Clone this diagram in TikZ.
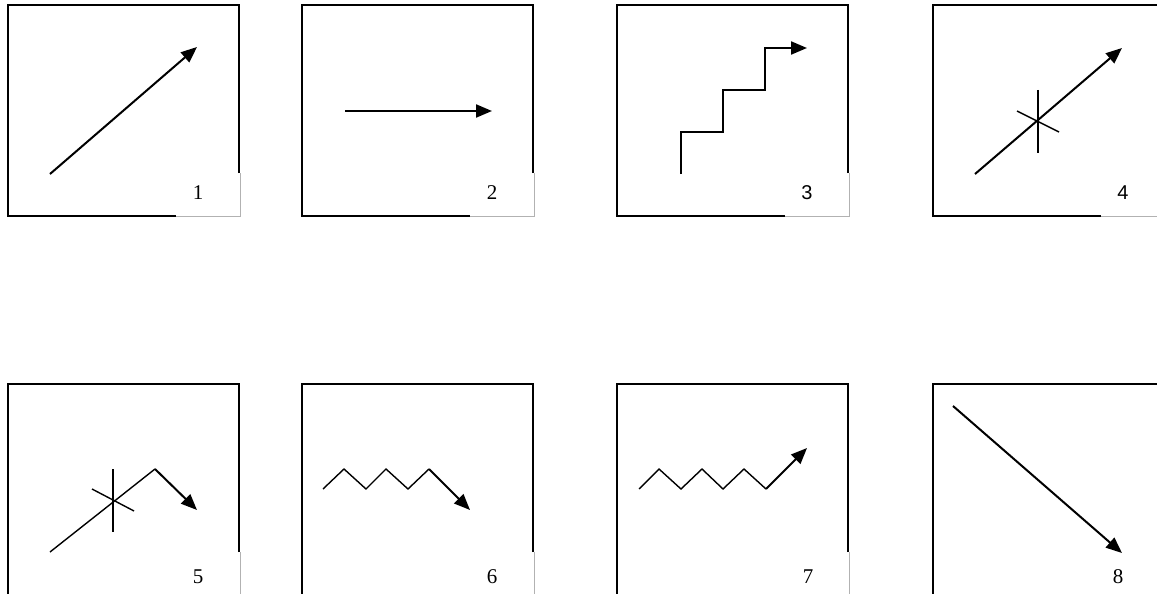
\documentclass[tikz,border=0pt]{standalone}
\usepackage{fontspec}
\setmainfont{Liberation Serif}
\newfontfamily\lblsans{Liberation Sans}
\usetikzlibrary{arrows.meta}
\tikzset{
  frame/.style={line width=1.6pt, black},
  gapline/.style={line width=0.8pt, black!30},
  mainarrow/.style={line width=2pt, -{Triangle[length=16pt,width=13pt]}},
  thinline/.style={line width=1.4pt},
  lbl/.style={font=\fontsize{21}{24}\selectfont, inner sep=0pt},
  lblsf/.style={font=\lblsans\fontsize{20}{24}\selectfont, inner sep=0pt},
}
\begin{document}
\begin{tikzpicture}[x=1pt,y=-1pt]
\clip (0,0) rectangle (1157,594);
\fill[white] (0,0) rectangle (1157,594);
% frames, top row
\foreach \L in {8,302,617,933}{
  \draw[frame] (\L+231,173) -- (\L+231,5) -- (\L,5) -- (\L,216) -- (\L+168,216);
  \draw[gapline] (\L+168,216) -- (\L+232,216) -- (\L+232,173);
}
% frames, bottom row
\foreach \L in {8,302,617,933}{
  \draw[frame] (\L+231,552) -- (\L+231,384) -- (\L,384) -- (\L,600);
  \draw[gapline] (\L+232,552) -- (\L+232,600);
}
% labels
\node[lbl] (n1) at (198,193) {1};
\node[lbl] (n2) at (492,193) {2};
\node[lblsf] (n3) at (807,193) {3};
\node[lblsf] (n4) at (1123,193) {4};
\node[lbl] (n5) at (198,577) {5};
\node[lbl] (n6) at (492,577) {6};
\node[lbl] (n7) at (808,577) {7};
\node[lbl] (n8) at (1118,577) {8};
% 1
\coordinate (a1s) at (50,174);
\coordinate (a1e) at (197,47);
\draw[mainarrow] (a1s) -- (a1e);
% 2
\coordinate (a2s) at (345,111);
\coordinate (a2e) at (492,111);
\draw[mainarrow] (a2s) -- (a2e);
% 3
\coordinate (a3s) at (681,174);
\coordinate (a3e) at (807,48);
\draw[mainarrow] (a3s) -- (681,132) -- (723,132) -- (723,90) -- (765,90) -- (765,48) -- (a3e);
% 4
\coordinate (a4s) at (975,174);
\coordinate (a4e) at (1122,48);
\draw[mainarrow] (a4s) -- (a4e);
\coordinate (c4t) at (1038,90);
\coordinate (c4b) at (1038,153);
\coordinate (c4l) at (1017,111);
\coordinate (c4r) at (1059,132);
\draw[thinline] (c4t) -- (c4b);
\draw[thinline] (c4l) -- (c4r);
% 5
\coordinate (a5s) at (50,552);
\coordinate (a5p) at (155,469);
\coordinate (a5e) at (197,510);
\draw[thinline] (a5s) -- (a5p);
\draw[mainarrow] (a5p) -- (a5e);
\coordinate (c5t) at (113,469);
\coordinate (c5b) at (113,532);
\coordinate (c5l) at (92,489);
\coordinate (c5r) at (134,511);
\draw[thinline] (c5t) -- (c5b);
\draw[thinline] (c5l) -- (c5r);
% 6
\coordinate (a6s) at (323,489);
\coordinate (a6p) at (429,469);
\coordinate (a6e) at (470,510);
\draw[thinline, line join=miter] (a6s) -- (344,469) -- (366,489) -- (386,469) -- (408,489) -- (a6p);
\draw[mainarrow] (a6p) -- (a6e);
% 7
\coordinate (a7s) at (639,489);
\coordinate (a7p) at (766,489);
\coordinate (a7e) at (807,448);
\draw[thinline, line join=miter] (a7s) -- (659,469) -- (681,489) -- (702,469) -- (723,489) -- (744,469) -- (a7p);
\draw[mainarrow] (a7p) -- (a7e);
% 8
\coordinate (a8s) at (953,406);
\coordinate (a8e) at (1122,553);
\draw[mainarrow] (a8s) -- (a8e);
\end{tikzpicture}
\end{document}
